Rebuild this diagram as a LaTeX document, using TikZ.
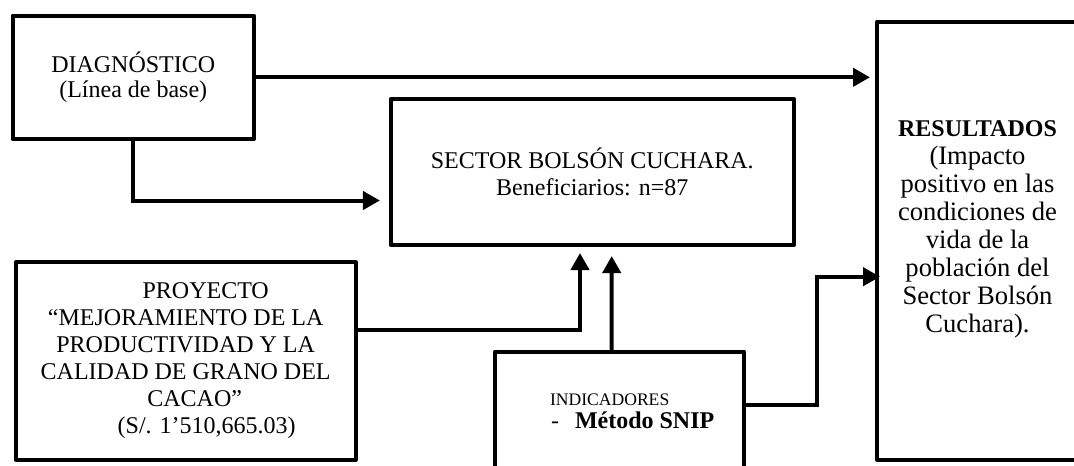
\documentclass[tikz,border=0pt]{standalone}
\usepackage{fontspec}
\setmainfont{Liberation Serif}
\usetikzlibrary{arrows.meta,calc}
\tikzset{
  box/.style={draw, line width=2pt, inner sep=0pt, outer sep=0pt, align=center, line join=round,
    font=\fontsize{12}{13.8}\selectfont},
  arr/.style={line width=2pt, line join=miter, -{Triangle[length=8.5pt,width=9pt]}},
  txt/.style={inner sep=0pt, outer sep=0pt}
}
\begin{document}
\begin{tikzpicture}[x=0.5pt,y=-0.5pt]
\useasboundingbox (0,0) rectangle (1074,465);
\clip (0,0) rectangle (1074,465);
\fill[white] (0,0) rectangle (1074,465);

\node[box, minimum width=120.75pt, minimum height=61.65pt, font=\fontsize{12}{12.8}\selectfont]
  (diag) at (133.25,77.3) {DIAGNÓSTICO\\(Línea de base)};

\node[box, minimum width=201.65pt, minimum height=73pt, font=\fontsize{12}{13.85}\selectfont]
  (sec) at (592.3,172) {SECTOR BOLSÓN CUCHARA.\\Beneficiarios: n=87};

\node[box, minimum width=170pt, minimum height=98.7pt, font=\fontsize{12}{13.5}\selectfont]
  (proj) at (185.7,361) {\hspace*{20pt}PROYECTO\\“MEJORAMIENTO DE LA\\PRODUCTIVIDAD Y LA\\CALIDAD DE GRANO DEL\\\hspace*{9pt}CACAO”\\\hspace*{21pt}(S/. 1’510,665.03)};

\node[box, minimum width=124.5pt, minimum height=69.15pt] (ind) at (619.5,420.8) {};
\node[txt, anchor=base west, font=\fontsize{8.8}{10}\selectfont] (indt1) at (550,405) {INDICADORES};
\node[txt, anchor=base west, font=\fontsize{12}{13.8}\selectfont] (indt2) at (551,428) {-\hspace{8pt}\textbf{Método SNIP}};

\node[box, minimum width=106.35pt, minimum height=219.15pt] (res) at (983.7,240.8) {};
\node[txt, align=center, font=\fontsize{13.3}{14}\selectfont] (rest) at (977.5,229)
  {{\fontsize{12}{14}\selectfont\textbf{RESULTADOS}}\\(Impacto\\positivo en las\\condiciones de\\vida de la\\población del\\Sector Bolsón\\Cuchara).};

\draw[arr, shorten >=3.65pt] (diag.east) -- (diag.east -| res.west);
\draw[arr, shorten >=5.35pt] (diag.south) |- ($(sec.west)+(0,28.5)$);
\draw[arr, shorten >=4pt] ($(proj.east)+(0,-31)$) -| ($(sec.south)+(-12.3,0)$);
\draw[arr, shorten >=5.5pt] ($(ind.north)+(-7.8,0)$) -- ($(sec.south)+(19.4,0)$);
\draw[arr] ($(ind.east)+(0,-15.8)$) -- ($(ind.east)+(72.7,-15.8)$) |- ($(res.west)+(2.7,35.9)$);
\end{tikzpicture}
\end{document}
